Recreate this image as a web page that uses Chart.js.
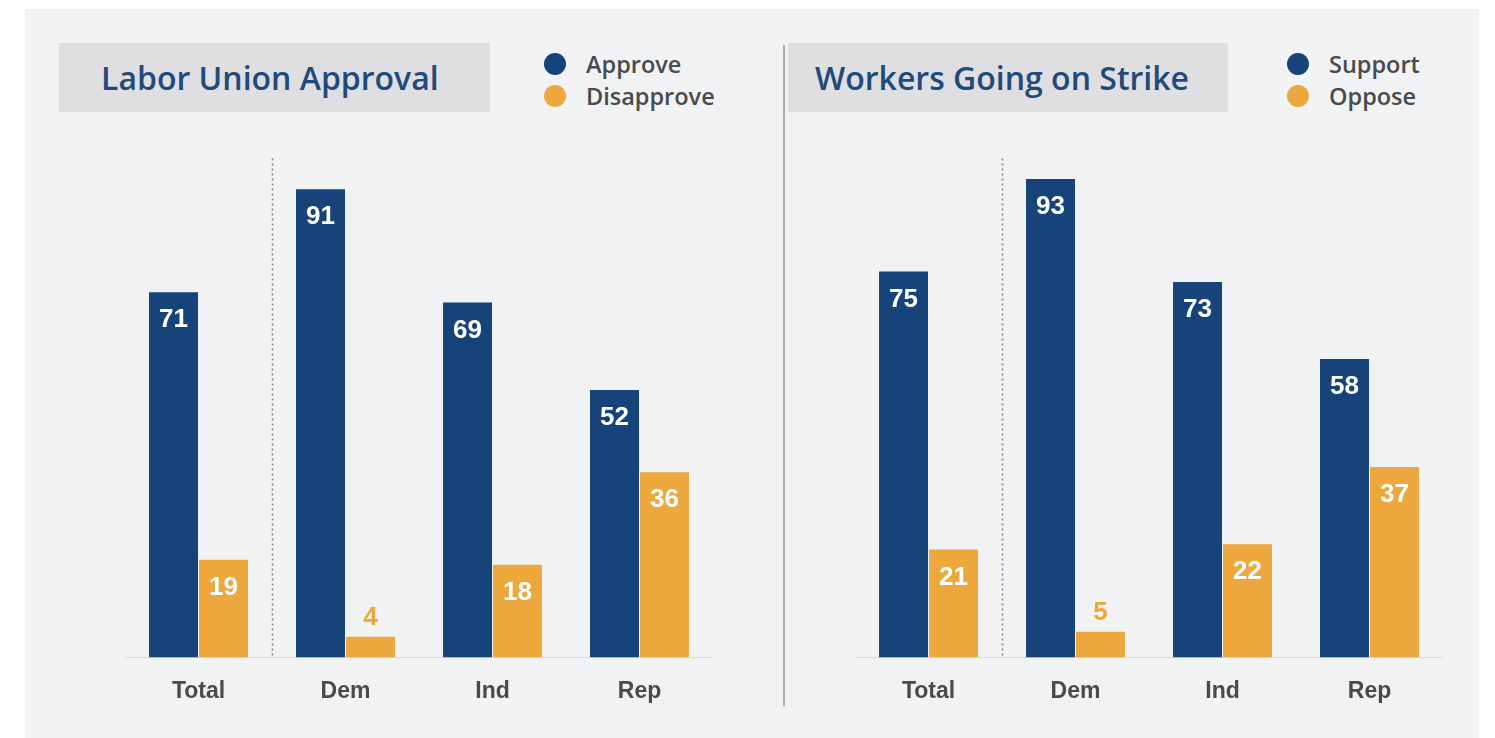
<!DOCTYPE html>
<html>
<head>
<meta charset="utf-8">
<script src="https://cdn.jsdelivr.net/npm/chart.js@4/dist/chart.umd.min.js"></script>
<style>
  html,body{margin:0;padding:0;background:#ffffff;}
  body{width:1495px;height:738px;position:relative;overflow:hidden;}
  #panel{position:absolute;left:25px;top:9px;width:1454px;height:729px;background:#f1f2f4;}
  .tbox{position:absolute;top:43px;height:69px;background:#dfdee0;color:#1f4a7c;
        font-family:"Open Sans",Lato,sans-serif;font-weight:600;font-size:32px;line-height:69px;
        white-space:nowrap;box-sizing:border-box;}
  .leg{position:absolute;font-family:"Open Sans",Lato,sans-serif;font-weight:600;font-size:23.5px;color:#4a4a4c;}
  .leg div{position:relative;height:32px;line-height:32px;padding-left:42px;white-space:nowrap;}
  .leg span{position:absolute;left:0;top:5px;width:22px;height:22px;border-radius:50%;}
  #sep{position:absolute;left:783px;top:45px;width:2px;height:661px;background:#acadaf;}
  canvas{position:absolute;}
</style>
</head>
<body>
<div id="panel"></div>
<div class="tbox" style="left:59px;width:431px;padding-left:42px;">Labor Union Approval</div>
<div class="tbox" style="left:788px;width:440px;padding-left:27px;">Workers Going on Strike</div>
<div id="sep"></div>
<div class="leg" style="left:544px;top:48px;">
  <div><span style="background:#16437a"></span>Approve</div>
  <div><span style="background:#eca83c"></span>Disapprove</div>
</div>
<div class="leg" style="left:1287px;top:48px;">
  <div><span style="background:#16437a"></span>Support</div>
  <div><span style="background:#eca83c"></span>Oppose</div>
</div>
<canvas id="c1" width="588" height="582" style="left:125px;top:143px;width:588px;height:582px;"></canvas>
<canvas id="c2" width="588" height="582" style="left:855px;top:143px;width:588px;height:582px;"></canvas>
<script>
const categories = ["Total", "Dem", "Ind", "Rep"];
const approve = [71, 91, 69, 52];
const disapprove = [19, 4, 18, 36];
const support = [75, 93, 73, 58];
const oppose = [21, 5, 22, 37];

const NAVY = "#16437a";
const ORANGE = "#eca83c";

const labelPlugin = {
  id: "valueLabels",
  afterDatasetsDraw(chart) {
    const ctx = chart.ctx;
    ctx.save();
    ctx.font = "bold 26px 'Liberation Sans', Arial, sans-serif";
    ctx.textAlign = "center";
    ctx.textBaseline = "middle";
    chart.data.datasets.forEach((ds, di) => {
      const meta = chart.getDatasetMeta(di);
      meta.data.forEach((bar, i) => {
        const v = ds.data[i];
        const h = bar.base - bar.y;
        if (h < 40) {
          ctx.fillStyle = ds.backgroundColor;
          ctx.fillText(String(v), bar.x, bar.y - 19);
        } else {
          ctx.fillStyle = "#ffffff";
          ctx.fillText(String(v), bar.x, bar.y + 28);
        }
      });
    });
    ctx.restore();
  }
};

const dividerPlugin = {
  id: "divider",
  beforeDatasetsDraw(chart) {
    const xs = chart.scales.x, ys = chart.scales.y;
    const x = Math.round((xs.getPixelForValue(0) + xs.getPixelForValue(1)) / 2) + 0.5;
    const ctx = chart.ctx;
    ctx.save();
    ctx.strokeStyle = "#7e8084";
    ctx.lineWidth = 1.5;
    ctx.setLineDash([2, 3]);
    ctx.beginPath();
    ctx.moveTo(x, ys.getPixelForValue(97));
    ctx.lineTo(x, ys.getPixelForValue(0));
    ctx.stroke();
    ctx.restore();
  }
};

function makeChart(id, labelA, dataA, labelB, dataB) {
  return new Chart(document.getElementById(id), {
    type: "bar",
    data: {
      labels: categories,
      datasets: [
        { label: labelA, data: dataA, backgroundColor: NAVY, categoryPercentage: 0.68, barPercentage: 0.98 },
        { label: labelB, data: dataB, backgroundColor: ORANGE, categoryPercentage: 0.68, barPercentage: 0.98 }
      ]
    },
    options: {
      responsive: false,
      animation: false,
      devicePixelRatio: 1,
      layout: { padding: 0 },
      plugins: { legend: { display: false }, tooltip: { enabled: false }, title: { display: false } },
      scales: {
        x: {
          grid: { display: false, drawTicks: false },
          border: { display: true, color: "#d9dbde", width: 1 },
          ticks: { padding: 20, color: "#4a4a4a", font: { family: "'Liberation Sans', Arial, sans-serif", size: 23, weight: "bold" } }
        },
        y: { display: false, min: 0, max: 100 }
      }
    },
    plugins: [dividerPlugin, labelPlugin]
  });
}

makeChart("c1", "Approve", approve, "Disapprove", disapprove);
makeChart("c2", "Support", support, "Oppose", oppose);
</script>
</body>
</html>
